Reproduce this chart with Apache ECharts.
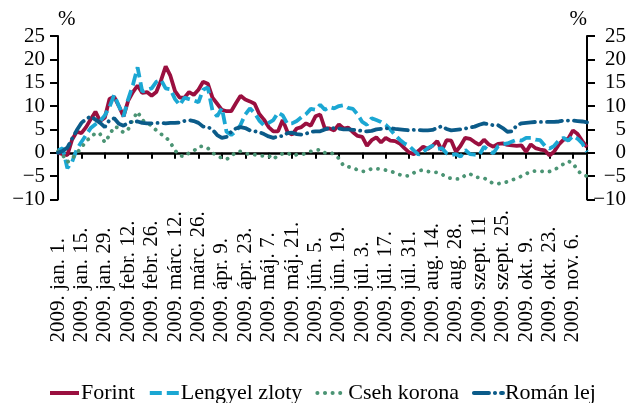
<!DOCTYPE html>
<html>
<head>
<meta charset="utf-8">
<script src="https://cdn.jsdelivr.net/npm/echarts@6/dist/echarts.min.js"></script>
<style>
html,body{margin:0;padding:0;background:#fff;}
#chart{width:630px;height:403px;}
</style>
</head>
<body>
<div id="chart"></div>
<script>
// x = business-day index from 2009-01-01; one value every 2 business days
const STEP = 2;
const tickLabels = ['2009. jan. 1.','2009. jan. 15.','2009. jan. 29.','2009. febr. 12.','2009. febr. 26.',
  '2009. márc. 12.','2009. márc. 26.','2009. ápr. 9.','2009. ápr. 23.','2009. máj. 7.','2009. máj. 21.',
  '2009. jún. 5.','2009. jún. 19.','2009. júl. 3.','2009. júl. 17.','2009. júl. 31.','2009. aug. 14.',
  '2009. aug. 28.','2009. szept. 11','2009. szept. 25.','2009. okt. 9.','2009. okt. 23.','2009. nov. 6.'];
const seriesNames = ['Forint','Lengyel zloty','Cseh korona','Román lej'];

const forint = [0,-0.3,-0.5,2.8,4.5,4.2,5.5,7.2,8.8,6.8,7.5,11.5,12,10,7.8,11.2,13,14.4,12.8,13,
  12.2,13,15.5,18.5,16.5,13.2,11.8,11.8,13,12.4,13.5,15.2,14.8,11.8,10.5,9.2,8.9,8.9,10.6,12.2,
  11.4,11,10.5,8.3,7.1,5.5,4.6,4.6,7,4.5,3.9,5.2,5.5,6.3,5.8,7.8,8.2,
  5.2,5.2,4.8,6.1,5.2,5.4,4.4,3.6,3.4,1.5,2.7,3.3,2.2,3.2,2.6,2.5,2.0,1.0,0.1,-0.3,0.4,1.3,0.8,1.5,
  2.5,0.5,2.7,2.6,
  0.2,1.5,3.2,3.0,2.3,1.7,2.8,1.8,1.3,1.9,2.0,1.7,1.6,1.5,1.6,0.2,1.8,1.0,0.7,0.5,-0.6,0.3,1.8,2.8,
  3.0,4.8,4.0,2.5,1.2];
const zloty = [0.5,1.0,-3.3,-2.0,0.7,2.3,3.8,5.3,6.1,6.8,8.0,9.8,12.4,10.0,7.8,11.5,14.5,18.3,13.1,13.5,
  13.8,15.2,15.6,13.8,13.6,11.5,10.2,11.8,11.5,11.2,10.8,13.5,14.0,9.0,7.8,9.6,4.5,3.8,4.6,6.0,
  8.2,9.5,8.5,6.9,5.9,6.4,7.0,8.6,8.0,6.2,6.3,6.8,7.6,8.3,9.4,9.2,10.3,
  9.2,9.8,9.5,10.0,10.2,9.6,9.4,8.2,6.6,6.0,7.4,7.0,6.6,6.0,5.0,3.8,2.8,2.0,1.5,0.5,-0.4,0.2,1.0,1.5,
  0.8,1.0,-0.1,-0.5,-0.3,-0.8,
  0.6,-0.3,-0.4,-0.5,1.3,0.5,-0.1,1.4,1.8,2.0,2.4,2.8,2.6,3.2,3.2,2.8,2.7,1.5,0.9,1.5,2.7,3.2,2.6,
  3.6,3.0,2.0,0.2];
const cseh = [0.3,-0.5,-2.0,-1.3,0.0,1.0,2.6,3.2,4.3,4.0,2.2,3.8,5.6,5.3,4.3,5.0,7.1,8.8,7.0,6.4,
  5.8,4.8,4.0,3.4,2.2,0.5,-0.6,-0.8,0.0,0.4,1.3,1.4,1.0,0.0,-0.7,-1.1,-1.4,-0.8,0.2,0.3,
  -0.1,-0.4,-0.4,-0.6,-0.7,-0.6,-1.4,-0.5,-0.2,0.0,-0.6,-0.4,-0.4,-0.1,0.3,0.5,0.7,
  0.0,0.1,-0.3,-1.2,-2.8,-3.0,-3.2,-3.7,-4.0,-3.9,-3.4,-3.4,-3.5,-3.7,-3.9,-4.3,-4.7,-5.0,-4.9,-4.3,
  -3.8,-3.7,-4.0,-4.1,-4.2,-4.6,-5.2,-5.5,-5.6,-5.6,
  -4.8,-4.5,-5.2,-5.3,-5.4,-6.0,-6.6,-6.6,-6.5,-6.2,-5.8,-5.5,-5.0,-4.5,-4.0,-3.9,-3.9,-4.1,-4.0,-3.7,
  -3.0,-2.4,-1.8,-2.2,-3.8,-4.7,-5.0];
const roman = [0.0,0.4,1.1,3.0,4.8,6.4,7.2,7.8,7.1,6.4,5.5,7.0,7.4,6.2,5.8,6.4,6.7,6.7,6.4,6.3,
  6.3,6.4,6.4,6.3,6.4,6.4,6.5,6.8,7.0,6.8,6.4,5.6,5.5,5.0,3.8,3.2,3.4,4.5,5.2,5.5,
  5.3,4.8,4.6,4.4,4.0,3.5,3.2,3.5,3.6,4.2,4.3,4.0,3.9,4.1,4.5,4.6,4.6,
  5.0,5.3,5.3,5.2,5.0,5.0,4.9,4.9,4.6,4.6,4.7,5.0,5.1,5.2,5.3,5.1,5.0,4.9,4.8,4.9,
  4.9,4.8,4.8,4.9,5.3,5.7,5.1,4.8,4.9,5.0,5.2,5.4,5.6,6.0,6.3,6.1,5.9,5.9,5.3,4.5,
  4.6,5.9,6.3,6.4,6.5,6.6,6.6,6.6,6.6,6.6,6.7,6.9,6.9,6.9,6.8,6.7,6.5];

const FONT = 'Liberation Serif';
const toPairs = arr => arr.map((v, i) => [i * STEP, v]);
const minus = v => String(v).replace('-', '\u2212');

const chart = echarts.init(document.getElementById('chart'), null, {renderer: 'canvas'});
const mkY = (pos, nameAlign, label) => ({
  type: 'value', min: -10, max: 25, interval: 5, position: pos,
  name: '%', nameLocation: 'end', nameGap: 6,
  nameTextStyle: {fontFamily: FONT, fontSize: 21, color: '#000', align: nameAlign},
  axisLine: {show: true, onZero: false, lineStyle: {color: '#000', width: 2}},
  axisTick: {show: true, length: 8, lineStyle: {color: '#000', width: 2}},
  splitLine: {show: false},
  axisLabel: label
});
chart.setOption({
  animation: false,
  backgroundColor: '#fff',
  textStyle: {fontFamily: FONT},
  grid: {left: 58, right: 43, top: 36, bottom: 203.5, containLabel: false},
  legend: {
    left: 43, top: 377, itemWidth: 29, itemHeight: 14, itemGap: 13,
    itemStyle: {color: 'rgba(0,0,0,0)', borderColor: 'rgba(0,0,0,0)', borderWidth: 0, opacity: 0},
    lineStyle: {width: 4},
    textStyle: {fontFamily: FONT, fontSize: 22, color: '#000', padding: [0, 0, 0, -3]},
    data: seriesNames
  },
  xAxis: [{
    type: 'value', min: 0, max: 226, interval: 10,
    axisLine: {show: true, onZero: true, lineStyle: {color: '#000', width: 2.5}},
    axisTick: {show: true, length: 6, lineStyle: {color: '#000', width: 2}},
    axisLabel: {show: false},
    splitLine: {show: false}
  }, {
    type: 'value', min: 0, max: 226, interval: 10, position: 'bottom',
    axisLine: {show: false, onZero: false},
    axisTick: {show: false},
    splitLine: {show: false},
    axisLabel: {
      show: true, rotate: 90, align: 'left', verticalAlign: 'middle', margin: 143,
      fontFamily: FONT, fontSize: 21, color: '#000', hideOverlap: false,
      showMinLabel: true, showMaxLabel: true,
      formatter: v => (v % 10 === 0 && tickLabels[v / 10]) ? tickLabels[v / 10] : ''
    }
  }],
  yAxis: [
    mkY('left', 'left', {margin: 13, fontFamily: FONT, fontSize: 21, color: '#000', formatter: minus}),
    mkY('right', 'right', {margin: 39, align: 'right', fontFamily: FONT, fontSize: 21, color: '#000', formatter: minus})
  ],
  series: [
    {name: seriesNames[0], type: 'line', data: toPairs(forint), showSymbol: false, symbol: 'none',
     color: '#9a0f3f', lineStyle: {color: '#9a0f3f', width: 3.8, type: 'solid'}},
    {name: seriesNames[1], type: 'line', data: toPairs(zloty), showSymbol: false, symbol: 'none',
     color: '#1ba7d3', lineStyle: {color: '#1ba7d3', width: 3.8, type: [12, 5]}},
    {name: seriesNames[2], type: 'line', data: toPairs(cseh), showSymbol: false, symbol: 'none',
     color: '#4b9474', lineStyle: {color: '#4b9474', width: 3.8, type: [0.1, 7.5], cap: 'round'}},
    {name: seriesNames[3], type: 'line', data: toPairs(roman), showSymbol: false, symbol: 'none',
     color: '#0b5b89', lineStyle: {color: '#0b5b89', width: 3.8, type: [15, 6, 0.1, 6], cap: 'round'}}
  ]
});
</script>
</body>
</html>
